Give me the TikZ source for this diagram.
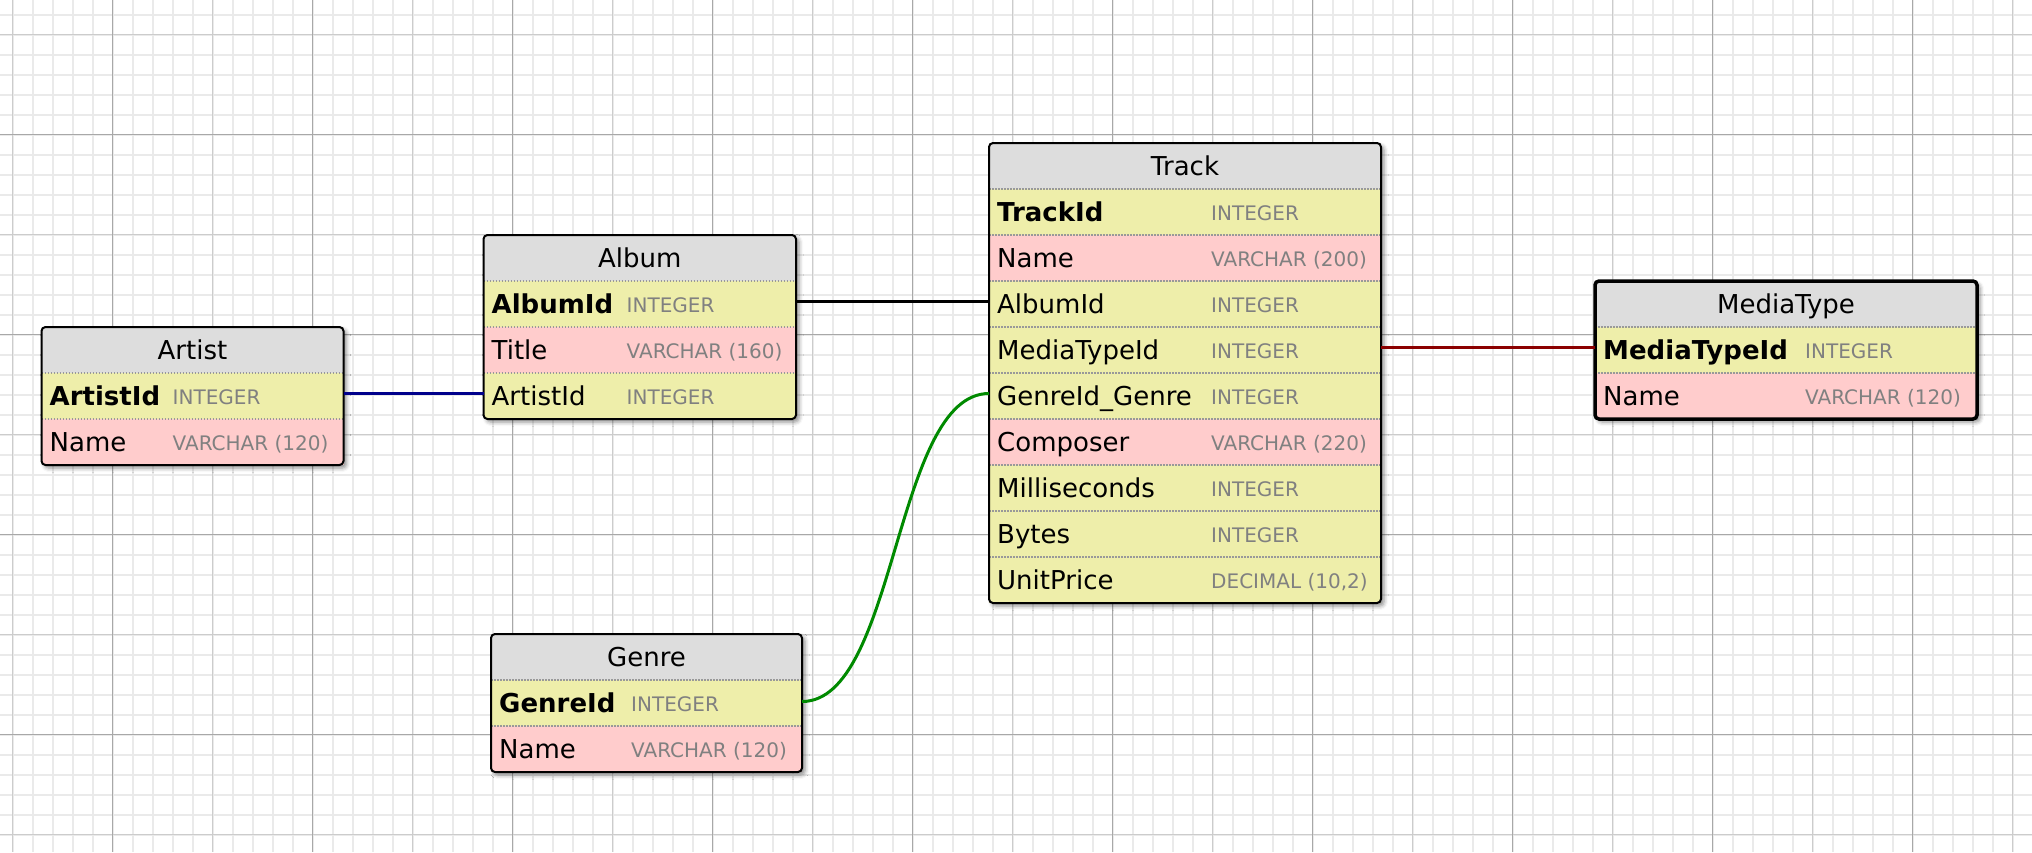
\documentclass[tikz,border=0pt]{standalone}
\usepackage{fontspec}
\setmainfont{DejaVu Sans}
\usetikzlibrary{shadows.blur}

\definecolor{numcell}{HTML}{EEEEAA}
\definecolor{textcell}{HTML}{FFCCCC}
\definecolor{titlecell}{HTML}{DDDDDD}
\definecolor{typegray}{HTML}{808080}
\definecolor{minorgrid}{HTML}{EAEAEA}
\definecolor{midgrid}{HTML}{CCCCCC}
\definecolor{majorgrid}{HTML}{A8A8A8}
\definecolor{linkblue}{HTML}{00008B}
\definecolor{linkred}{HTML}{8B0000}
\definecolor{linkgreen}{HTML}{008A00}

\begin{document}
\begin{tikzpicture}[x=1pt, y=-1pt,
  minorline/.style={draw=minorgrid, line width=2pt},
  midline/.style={draw=midgrid, line width=1.5pt},
  majorline/.style={draw=majorgrid, line width=1.5pt},
  titlebox/.style={anchor=north west, fill=titlecell, inner sep=0pt, outer sep=0pt,
    minimum height=46pt, text height=19pt, text depth=0pt, font=\fontsize{26}{30}\selectfont},
  cellbox/.style={anchor=north west, inner sep=0pt, outer sep=0pt, minimum height=46pt},
  cellsep/.style={draw=gray!80, line width=1.5pt, dash pattern=on 1.5pt off 1.5pt},
  fieldname/.style={anchor=base west, inner sep=0pt, font=\fontsize{26}{30}\selectfont},
  fieldtype/.style={anchor=base west, inner sep=0pt, text=typegray, font=\fontsize{20}{24}\selectfont},
  tableframe/.style={draw=black, line width=2pt, rounded corners=4pt},
  tableshadow/.style={fill=white, rounded corners=4pt,
    blur shadow={shadow xshift=3pt, shadow yshift=-3pt, shadow blur radius=4pt, shadow opacity=45}},
  link/.style={line width=3pt}]

\useasboundingbox (0,0) rectangle (2032,852);

% paper grid
\foreach \gx in {12.7,32.7,...,2032} \draw[minorline] (\gx,0) -- (\gx,852);
\foreach \gy in {14.7,34.7,...,852} \draw[minorline] (0,\gy) -- (2032,\gy);
\foreach \gx in {12.7,212.7,...,2032} \draw[midline] (\gx,0) -- (\gx,852);
\foreach \gy in {34.7,234.7,...,852} \draw[midline] (0,\gy) -- (2032,\gy);
\foreach \gx in {112.7,312.7,...,2032} \draw[majorline] (\gx,0) -- (\gx,852);
\foreach \gy in {134.7,334.7,...,852} \draw[majorline] (0,\gy) -- (2032,\gy);

% name, title, left, top, width, type column, rows, fields
\def\dbtable#1#2#3#4#5#6#7#8{%
  \fill[tableshadow] (#3,#4) rectangle ++(#5,{46*(#7+1)});
  \node[titlebox, minimum width=#5] (#1) at (#3,#4) {#2};
  \foreach \fname/\ftype/\fcolor [count=\i] in {#8} {
    \node[cellbox, fill=\fcolor, minimum width=#5] (#1-\i) at (#3,{#4+46*\i}) {};
    \draw[cellsep] (#1-\i.north west) -- (#1-\i.north east);
    \node[fieldname] at ([xshift=8pt, yshift=-9.5pt]#1-\i.west) {\ifnum\i=1 \bfseries\fi\fname};
    \node[fieldtype] at ([xshift=#6pt, yshift=-8pt]#1-\i.west) {\ftype};
  }
  \draw[tableframe] (#1.north west) rectangle (#1-#7.south east);
}

\dbtable{artist}{Artist}{41.5}{327}{302}{131}{2}{ArtistId/INTEGER/numcell, Name/VARCHAR (120)/textcell}
\dbtable{album}{Album}{483.5}{235}{312.5}{143}{3}{AlbumId/INTEGER/numcell, Title/VARCHAR (160)/textcell,
  ArtistId/INTEGER/numcell}
\dbtable{track}{Track}{989}{143}{392}{222}{9}{TrackId/INTEGER/numcell, Name/VARCHAR (200)/textcell,
  AlbumId/INTEGER/numcell, MediaTypeId/INTEGER/numcell, GenreId\_Genre/INTEGER/numcell,
  Composer/VARCHAR (220)/textcell, Milliseconds/INTEGER/numcell, Bytes/INTEGER/numcell,
  UnitPrice/{DECIMAL (10,2)}/numcell}
\dbtable{media}{MediaType}{1595}{281}{382}{210}{2}{MediaTypeId/INTEGER/numcell, Name/VARCHAR (120)/textcell}
\dbtable{genre}{Genre}{491}{634}{311}{140}{2}{GenreId/INTEGER/numcell, Name/VARCHAR (120)/textcell}

% selected table
\draw[tableframe, line width=3.5pt] (media.north west) rectangle (media-2.south east);

% relations
\draw[link, linkblue] ([yshift=2.5pt]artist-1.east) -- ([yshift=2.5pt]album-3.west);
\draw[link, black] ([yshift=2.5pt]album-1.east) -- ([yshift=2.5pt]track-3.west);
\draw[link, linkred] ([yshift=2.5pt]track-4.east) -- ([yshift=2.5pt]media-1.west);
\draw[link, linkgreen] ([yshift=1.5pt]genre-1.east) .. controls +(95,0) and +(-95,0) .. ([yshift=2.5pt]track-5.west);

\end{tikzpicture}
\end{document}
